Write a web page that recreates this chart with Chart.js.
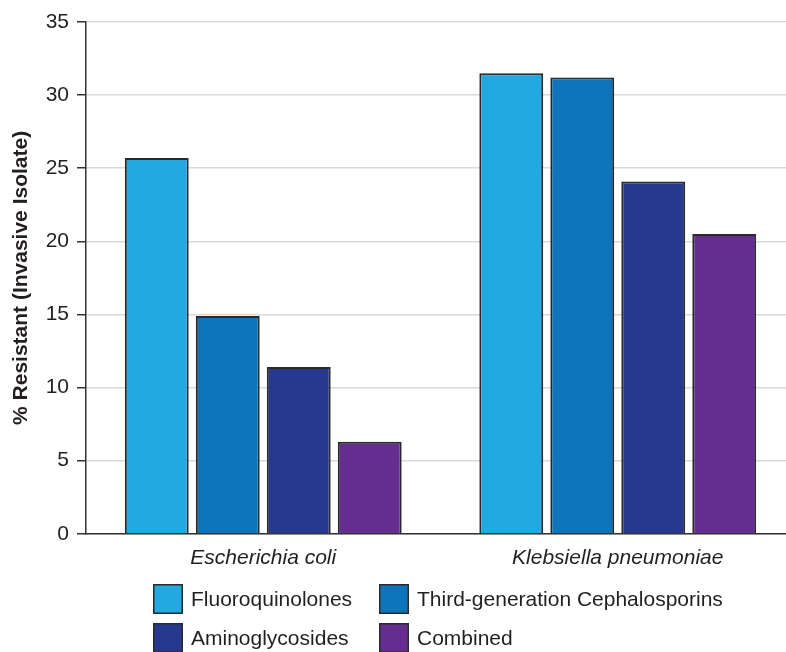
<!DOCTYPE html>
<html lang="en">
<head>
  <meta charset="UTF-8">
  <title>Resistance by Isolate</title>
  <script src="https://cdn.jsdelivr.net/npm/chart.js@4"></script>
  <style>
    html, body {
      margin: 0;
      padding: 0;
      background: #fff;
      overflow: hidden;
    }
    .wrap {
      width: 795px;
      height: 652px;
    }
  </style>
</head>
<body>
  <div class="wrap">
    <canvas id="chart" width="795" height="652"></canvas>
  </div>

  <script>
    const categories = ["Escherichia coli", "Klebsiella pneumoniae"];
    const seriesNames = ["Fluoroquinolones", "Third-generation Cephalosporins", "Aminoglycosides", "Combined"];
    const fluoroquinolones = [25.7, 31.5];
    const cephalosporins = [14.9, 31.2];
    const aminoglycosides = [11.4, 24.1];
    const combined = [6.3, 20.5];
    const yTicks = [0, 5, 10, 15, 20, 25, 30, 35];

    const colors = ["#23a8e0", "#0e75bc", "#27388f", "#662d91"];
    const seriesValues = [fluoroquinolones, cephalosporins, aminoglycosides, combined];
    const textColor = "#231f20";
    const fontFamily = "'Liberation Sans', Arial, sans-serif";

    // legend in a fixed 2x2 grid, like the original figure
    const gridLegend = {
      id: "gridLegend",
      afterDraw(chart) {
        const ctx = chart.ctx;
        const cols = [153, 379];
        const rows = [584, 623];
        ctx.save();
        ctx.font = "21px " + fontFamily;
        ctx.textBaseline = "middle";
        chart.data.datasets.forEach((ds, i) => {
          const x = cols[i % 2];
          const y = rows[Math.floor(i / 2)];
          ctx.fillStyle = ds.backgroundColor;
          ctx.fillRect(x, y, 30, 30);
          ctx.strokeStyle = "#2a2a2a";
          ctx.lineWidth = 1.5;
          ctx.strokeRect(x + 0.75, y + 0.75, 28.5, 28.5);
          ctx.fillStyle = textColor;
          ctx.fillText(ds.label, x + 38, y + 16);
        });
        ctx.restore();
      }
    };

    new Chart(document.getElementById("chart").getContext("2d"), {
      type: "bar",
      data: {
        labels: categories,
        datasets: seriesNames.map((name, i) => ({
          label: name,
          data: seriesValues[i],
          backgroundColor: colors[i],
          borderColor: "#2a2a2a",
          borderWidth: 2,
          categoryPercentage: 0.801,
          barPercentage: 0.9
        }))
      },
      options: {
        responsive: false,
        animation: false,
        layout: {
          padding: { top: 22, right: 0, bottom: 77, left: 0 }
        },
        plugins: {
          legend: { display: false },
          tooltip: { enabled: false }
        },
        scales: {
          x: {
            grid: { display: false },
            border: { color: "#333", width: 1.5 },
            ticks: {
              color: textColor,
              padding: 4,
              font: { family: fontFamily, size: 21, style: "italic" }
            }
          },
          y: {
            min: 0,
            max: 35,
            afterBuildTicks(scale) {
              scale.ticks = yTicks.map((v) => ({ value: v }));
            },
            afterFit(scale) {
              scale.width = 86;
            },
            grid: {
              color: "#d9d9d9",
              lineWidth: 1.5,
              tickColor: "#333",
              tickLength: 9,
              tickWidth: 1.5
            },
            border: { color: "#333", width: 1.5 },
            ticks: {
              color: textColor,
              padding: 8,
              font: { family: fontFamily, size: 21 }
            },
            title: {
              display: true,
              text: "% Resistant (Invasive Isolate)",
              color: textColor,
              padding: { top: 9, bottom: 0 },
              font: { family: fontFamily, size: 21, weight: "bold" }
            }
          }
        }
      },
      plugins: [gridLegend]
    });
  </script>
</body>
</html>
